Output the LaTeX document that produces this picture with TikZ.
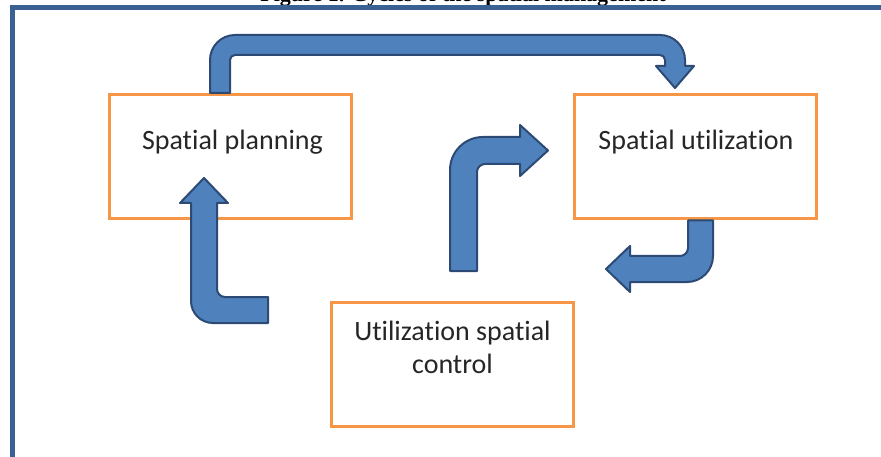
\documentclass[tikz,border=0pt]{standalone}
\usepackage{fontspec}
\newfontfamily\calib[Ligatures=NoCommon]{Carlito}
\newfontfamily\capserif{Liberation Serif}
\usepackage{tikz}
\usetikzlibrary{positioning,calc}
\definecolor{framec}{HTML}{3B6194}
\definecolor{boxc}{HTML}{F79646}
\definecolor{arrc}{HTML}{4F81BD}
\definecolor{arredge}{HTML}{2C4A74}
\definecolor{txtc}{HTML}{262626}
\tikzset{
  stage/.style={draw=boxc,line width=3pt,fill=white,minimum width=242pt,minimum height=124pt,inner sep=0pt},
  stagetxt/.style={font=\calib\fontsize{28}{33}\selectfont,text=txtc,align=center,anchor=base,inner sep=0pt},
  barrow/.style={fill=arrc,draw=arredge,line width=2pt,line join=round},
  frameline/.style={draw=framec,line width=5pt},
  captxt/.style={font=\capserif\bfseries\fontsize{22}{26}\selectfont,anchor=base,inner sep=0pt},
}

\begin{document}
\begin{tikzpicture}[x=1pt,y=1pt]
  \useasboundingbox (0,-457) rectangle (881,0);
  \node[captxt] (cap) at (463,-2) {Figure 1. Cycles of the spatial management};
  \draw[frameline] (12,-470) -- (12,-8) -- (895,-8);
  % the three stages
  \node[stage] (planbox) at (230.5,-156.5) {};
  \node[stage] (utilbox) at (695,-157) {};
  \node[stage] (ctrlbox) at (452.5,-364.5) {};
  \node[stagetxt] (plantxt) at ([xshift=2pt,yshift=-57pt]planbox.north) {Spatial planning};
  \node[stagetxt] (utiltxt) at ([xshift=1pt,yshift=-56.5pt]utilbox.north) {Spatial utilization};
  \node[stagetxt] (ctrltxt) at ([yshift=-72pt]ctrlbox.north) {Utilization spatial\\control};
  % planning -> utilization
  \draw[barrow] (210,0 |- planbox.north) -- (210,-60) arc[start angle=180,end angle=90,radius=25]
    -- (660,-35) arc[start angle=90,end angle=0,radius=25] -- (685,-66) -- (694,-66) -- (675,-88)
    -- (656,-66) -- (665,-66) -- (665,-60) arc[start angle=0,end angle=90,radius=5]
    -- (235,-55) arc[start angle=90,end angle=180,radius=5] -- (230,0 |- planbox.north) -- cycle;
  % utilization -> control
  \draw[barrow] (713,0 |- utilbox.south) -- (713,-256) arc[start angle=0,end angle=-90,radius=26]
    -- (630,-282) -- (630,-292) -- (606,-269) -- (630,-246) -- (630,-256)
    -- (680,-256) arc[start angle=-90,end angle=0,radius=8] -- (688,0 |- utilbox.south) -- cycle;
  % control -> planning
  \draw[barrow] (268,-297) -- (225,-297) arc[start angle=-90,end angle=-180,radius=8]
    -- (217,-203) -- (228,-203) -- (204,-178) -- (180,-203) -- (191,-203)
    -- (191,-301) arc[start angle=180,end angle=270,radius=22] -- (268,-323) -- cycle;
  % control -> utilization
  \draw[barrow] (450,-271) -- (450,-170) arc[start angle=180,end angle=90,radius=33]
    -- (520,-137) -- (520,-125) -- (548,-150.5) -- (520,-176) -- (520,-164)
    -- (485,-164) arc[start angle=90,end angle=180,radius=8] -- (477,-271) -- cycle;
\end{tikzpicture}
\end{document}
